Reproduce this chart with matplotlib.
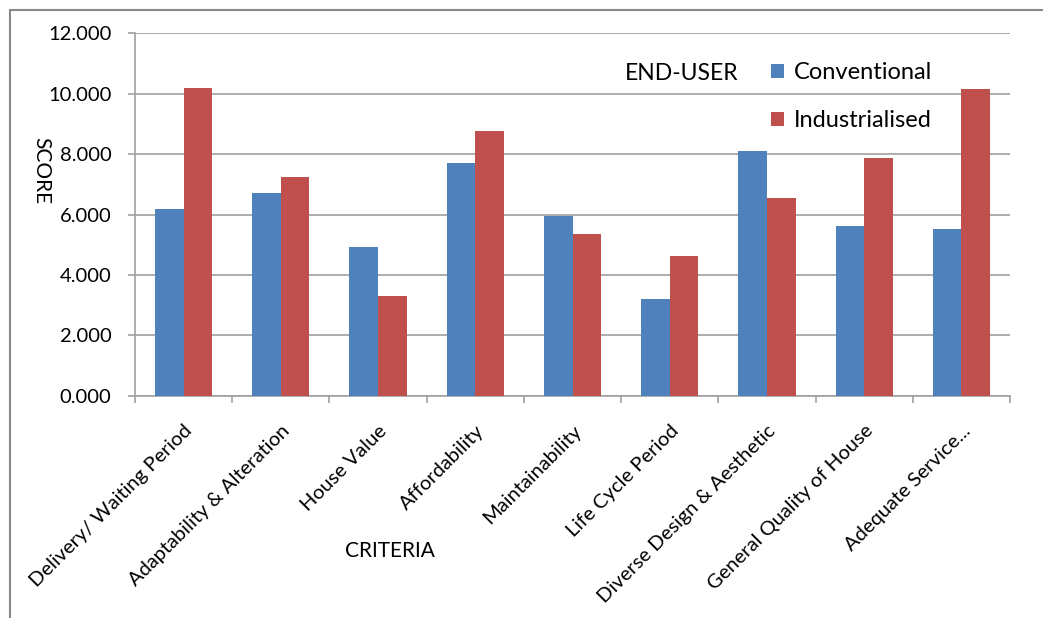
import matplotlib
matplotlib.use('Agg')
import matplotlib.pyplot as plt
import matplotlib.patches as patches
import numpy as np

plt.rcParams['font.family'] = ['Lato', 'DejaVu Sans']

# Data
criteria = ["Delivery/ Waiting Period", "Adaptability & Alteration", "House Value",
            "Affordability", "Maintainability", "Life Cycle Period",
            "Diverse Design & Aesthetic", "General Quality of House", "Adequate Service..."]
conventional = [6.19, 6.71, 4.92, 7.72, 5.94, 3.19, 8.09, 5.61, 5.52]
industrialised = [10.20, 7.23, 3.29, 8.76, 5.34, 4.63, 6.54, 7.86, 10.16]
yticks = [0, 2, 4, 6, 8, 10, 12]

blue = '#4F81BD'
red = '#C0504D'
axis_gray = '#A0A0A0'

fig = plt.figure(figsize=(10.43, 6.18), dpi=100)
ax = fig.add_axes([0.1294, 0.36, 0.8390, 0.5858])

x = np.arange(len(criteria))
w = 0.295
ax.bar(x - w / 2, conventional, w, color=blue, label='Conventional', zorder=3)
ax.bar(x + w / 2, industrialised, w, color=red, label='Industrialised', zorder=3)

ax.set_xlim(-0.5, len(criteria) - 0.5)
ax.set_ylim(0, 12)
ax.set_yticks(yticks)
ax.set_yticklabels([f"{v:.3f}" for v in yticks], fontsize=14.5)
ax.yaxis.grid(True, color=axis_gray, linewidth=1.2, zorder=0)

# category ticks sit between groups
ax.set_xticks(np.arange(len(criteria) + 1) - 0.5)
ax.set_xticklabels([])
ax.set_xticks(x, minor=True)
ax.set_xticklabels(criteria, minor=True, rotation=45, ha='right', va='top',
                   rotation_mode='anchor', fontsize=14.5)
ax.tick_params(axis='x', which='minor', length=0, pad=19)
ax.tick_params(axis='x', which='major', length=5, color=axis_gray, width=1.2)
ax.tick_params(axis='y', length=5, color=axis_gray, width=1.2, pad=12)

for s in ['top', 'right']:
    ax.spines[s].set_visible(False)
for s in ['left', 'bottom']:
    ax.spines[s].set_color(axis_gray)
    ax.spines[s].set_linewidth(1.2)

fig.text(41 / 1043, 1 - 171 / 618, 'SCORE', rotation=-90, fontsize=15,
         ha='center', va='center')
fig.text(390 / 1043, 1 - 551 / 618, 'CRITERIA', fontsize=15, ha='center', va='center')
fig.text(682 / 1043, 1 - 73 / 618, 'END-USER', fontsize=16.5, ha='center', va='center')

ax.legend(loc='upper left', bbox_to_anchor=(771 / 1043, 1 - 62 / 618),
          bbox_transform=fig.transFigure, frameon=False, fontsize=17,
          borderpad=0, borderaxespad=0,
          handlelength=0.55, handleheight=0.55, handletextpad=0.4, labelspacing=1.15)

# outer chart frame (left and top edges visible)
fig.patches.append(patches.Rectangle((10 / 1043, -0.1), 1.2, 1 - 10 / 618 + 0.1,
                                     transform=fig.transFigure, fill=False,
                                     edgecolor='#888888', linewidth=1.5))

fig.savefig('out.png', dpi=100)
